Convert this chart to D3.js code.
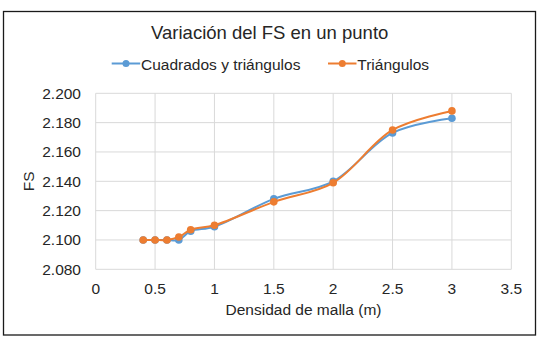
<!DOCTYPE html>
<html>
<head>
<meta charset="utf-8">
<script src="https://cdn.jsdelivr.net/npm/d3@7"></script>
<style>
	body { margin: 0; background: #fff; }
	text { font-family: "Liberation Sans", Arial, sans-serif; fill: #262626; }
	.grid line { stroke: #d9d9d9; stroke-width: 1; }
</style>
</head>
<body>
<svg id="chart" width="549" height="339"></svg>
<script>
const WIDTH = 549;
const HEIGHT = 339;

const xValues = [0.4, 0.5, 0.6, 0.7, 0.8, 1.0, 1.5, 2.0, 2.5, 3.0];
const cuadradosValues = [2.100, 2.100, 2.100, 2.100, 2.106, 2.109, 2.128, 2.140, 2.173, 2.183];
const triangulosValues = [2.100, 2.100, 2.100, 2.102, 2.107, 2.110, 2.126, 2.139, 2.175, 2.188];

const xTicks = [0, 0.5, 1, 1.5, 2, 2.5, 3, 3.5];
const yTicks = [2.08, 2.10, 2.12, 2.14, 2.16, 2.18, 2.20];

const seriesList = [
	{ name: "Cuadrados y triángulos", values: cuadradosValues, color: "#5b9bd5" },
	{ name: "Triángulos", values: triangulosValues, color: "#ed7d31" },
];

const svg = d3.select("#chart");

// chart frame
svg.append("rect")
	.attr("x", 3.5).attr("y", 11.5)
	.attr("width", 532).attr("height", 323.5)
	.attr("fill", "#fff")
	.attr("stroke", "#1a1a1a")
	.attr("stroke-width", 1.3);

const plot = { left: 95.7, right: 511.3, top: 93.3, bottom: 269.3 };
const xScale = d3.scaleLinear([0, 3.5], [plot.left, plot.right]);
const yScale = d3.scaleLinear([2.08, 2.20], [plot.bottom, plot.top]);

// gridlines
const grid = svg.append("g").classed("grid", true);
grid.selectAll(".hgrid")
	.data(yTicks)
	.join("line")
	.attr("x1", plot.left).attr("x2", plot.right)
	.attr("y1", d => yScale(d)).attr("y2", d => yScale(d));
grid.selectAll(".vgrid")
	.data(xTicks)
	.join("line")
	.attr("y1", plot.top).attr("y2", plot.bottom)
	.attr("x1", d => xScale(d)).attr("x2", d => xScale(d));

// tick labels
svg.append("g")
	.selectAll("text")
	.data(yTicks)
	.join("text")
	.attr("x", 81)
	.attr("y", d => yScale(d))
	.attr("dy", "0.35em")
	.attr("text-anchor", "end")
	.attr("font-size", 15.5)
	.text(d => d3.format(".3f")(d));

svg.append("g")
	.selectAll("text")
	.data(xTicks)
	.join("text")
	.attr("x", d => xScale(d))
	.attr("y", 294)
	.attr("text-anchor", "middle")
	.attr("font-size", 15.5)
	.text(d => d);

// axis titles
svg.append("text")
	.attr("x", (plot.left + plot.right) / 2)
	.attr("y", 315)
	.attr("text-anchor", "middle")
	.attr("font-size", 15.5)
	.text("Densidad de malla (m)");

svg.append("text")
	.attr("transform", `translate(29,${(plot.top + plot.bottom) / 2}) rotate(-90)`)
	.attr("dy", "0.35em")
	.attr("text-anchor", "middle")
	.attr("font-size", 15.5)
	.text("FS");

// title
svg.append("text")
	.attr("x", 269.7)
	.attr("y", 39.3)
	.attr("text-anchor", "middle")
	.attr("font-size", 18.5)
	.text("Variación del FS en un punto");

// series
const line = d3.line()
	.x(d => xScale(d[0]))
	.y(d => yScale(d[1]))
	.curve(d3.curveCatmullRom.alpha(0.5));

const seriesG = svg.append("g")
	.selectAll("g")
	.data(seriesList)
	.join("g");

seriesG.append("path")
	.attr("d", s => line(xValues.map((x, i) => [x, s.values[i]])))
	.attr("fill", "none")
	.attr("stroke", s => s.color)
	.attr("stroke-width", 2);

seriesG.selectAll("circle")
	.data(s => xValues.map((x, i) => ({ x, y: s.values[i], color: s.color })))
	.join("circle")
	.attr("cx", d => xScale(d.x))
	.attr("cy", d => yScale(d.y))
	.attr("r", 3.8)
	.attr("fill", d => d.color);

// legend
const legendItems = [
	{ series: seriesList[0], x: 111.7 },
	{ series: seriesList[1], x: 328 },
];
const legend = svg.append("g")
	.selectAll("g")
	.data(legendItems)
	.join("g")
	.attr("transform", d => `translate(${d.x},63.5)`);
legend.append("line")
	.attr("x1", 0).attr("x2", 28.5)
	.attr("stroke", d => d.series.color)
	.attr("stroke-width", 2);
legend.append("circle")
	.attr("cx", 14.3).attr("r", 3.5)
	.attr("fill", d => d.series.color);
legend.append("text")
	.attr("x", 29.3)
	.attr("y", 6.5)
	.attr("font-size", 15.5)
	.text(d => d.series.name);
</script>
</body>
</html>
